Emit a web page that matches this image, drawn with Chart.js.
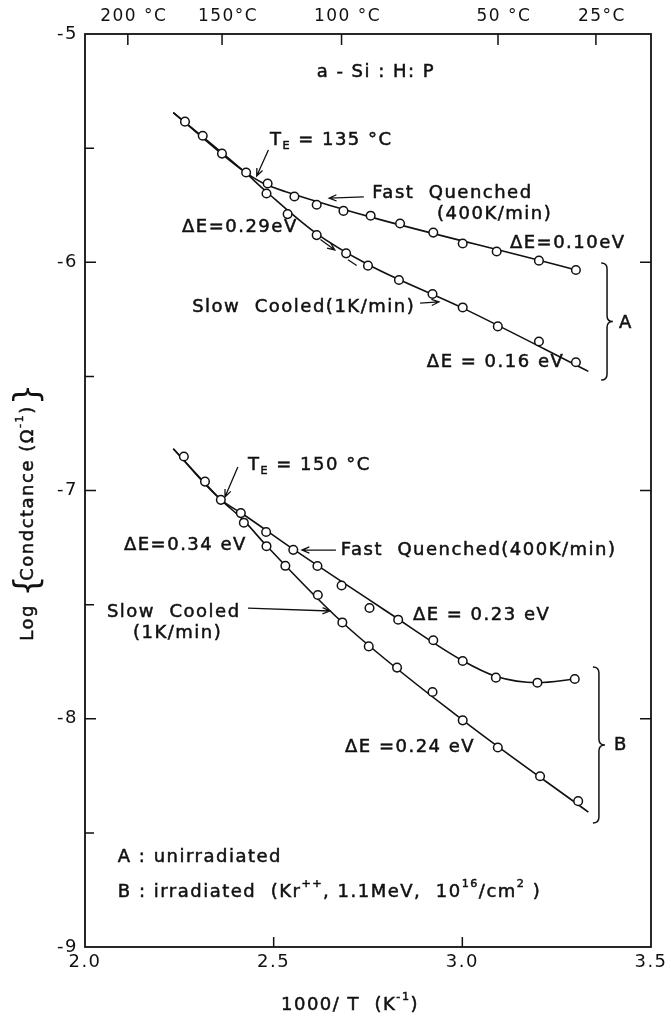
<!DOCTYPE html>
<html>
<head>
<meta charset="utf-8">
<script src="https://cdn.jsdelivr.net/npm/chart.js@4.4.1/dist/chart.umd.min.js"></script>
<style>
  html, body { margin: 0; padding: 0; background: #fff; }
  canvas { display: block; }
</style>
</head>
<body>
<canvas id="chart" width="671" height="1019"></canvas>
<script>
// values: x = 1000/T (1/K), y = log conductance

// A : unirradiated
const aCommonX = [2.265, 2.312, 2.363, 2.427];
const aCommonY = [-5.384, -5.446, -5.524, -5.607];
const aFastX = [2.484, 2.555, 2.614, 2.685, 2.757, 2.835, 2.923, 3.001, 3.091, 3.203, 3.301];
const aFastY = [-5.655, -5.712, -5.748, -5.775, -5.796, -5.830, -5.870, -5.918, -5.953, -5.993, -6.034];
const aSlowX = [2.481, 2.537, 2.614, 2.692, 2.750, 2.832, 2.921, 3.001, 3.094, 3.203, 3.301];
const aSlowY = [-5.699, -5.789, -5.881, -5.961, -6.015, -6.078, -6.139, -6.198, -6.281, -6.347, -6.438];

// B : irradiated
const bCommonX = [2.262, 2.318, 2.360];
const bCommonY = [-6.851, -6.961, -7.041];
const bFastX = [2.413, 2.480, 2.552, 2.616, 2.680, 2.754, 2.830, 2.923, 3.001, 3.089, 3.199, 3.298];
const bFastY = [-7.099, -7.182, -7.260, -7.331, -7.416, -7.515, -7.566, -7.656, -7.747, -7.820, -7.842, -7.826];
const bSlowX = [2.421, 2.481, 2.531, 2.617, 2.682, 2.752, 2.827, 2.921, 3.001, 3.094, 3.206, 3.307];
const bSlowY = [-7.141, -7.244, -7.330, -7.458, -7.578, -7.683, -7.776, -7.883, -8.007, -8.126, -8.252, -8.361];

// hand-drawn fit curves (knots)
const aFastFitX = [2.234, 2.42, 2.47, 2.53, 3.301];
const aFastFitY = [-5.344, -5.600, -5.652, -5.690, -6.034];
const aSlowFitX = [2.234, 2.42, 2.48, 2.61, 2.75, 3.00, 3.334];
const aSlowFitY = [-5.344, -5.600, -5.690, -5.870, -6.010, -6.200, -6.478];
const bFastFitX = [2.234, 2.36, 2.42, 2.55, 2.80, 3.00, 3.09, 3.20, 3.30];
const bFastFitY = [-6.817, -7.040, -7.105, -7.255, -7.530, -7.745, -7.815, -7.842, -7.826];
const bSlowFitX = [2.234, 2.36, 2.42, 2.48, 2.68, 3.00, 3.334];
const bSlowFitY = [-6.817, -7.040, -7.130, -7.240, -7.575, -8.005, -8.409];

// axes
const xTicks = [2.0, 2.5, 3.0, 3.5];
const xTickLabels = ['2.0', '2.5', '3.0', '3.5'];
const yTicks = [-9, -8, -7, -6, -5];
const yTickLabels = ['-9', '-8', '-7', '-6', '-5'];
const yMinorTicks = [-8.5, -7.5, -6.5, -5.5];
const tempC = [200, 150, 100, 50, 25];
const tempLabels = ['200 °C', '150°C', '100 °C', '50 °C', '25°C'];
const tempTicks = tempC.map(c => 1000 / (c + 273.15));

const FONT = '"DejaVu Sans", sans-serif';

const pts = (xs, ys) => xs.map((v, i) => ({x: v, y: ys[i]}));

function fitLine(xs, ys) {
  return {
    type: 'line', data: pts(xs, ys), showLine: true, pointRadius: 0,
    borderColor: '#111', borderWidth: 1.6, cubicInterpolationMode: 'monotone',
    fill: false, order: 2, clip: false
  };
}
function marks(xs, ys) {
  return {
    type: 'scatter', data: pts(xs, ys), showLine: false,
    pointRadius: 4.3, pointBorderWidth: 1.5, pointBackgroundColor: '#fff',
    pointBorderColor: '#111', order: 1, clip: false
  };
}

// text notes, placed in data units
const notes = [
  {x: 2.771, y: -5.166, align: 'center', parts: [{t: 'a - Si : H: P'}]},
  {x: 2.490, y: -5.464, parts: [{t: 'T'}, {t: 'E', sub: true}, {t: ' = 135 °C'}]},
  {x: 2.761, y: -5.697, parts: [{t: 'Fast  Quenched'}]},
  {x: 2.933, y: -5.789, parts: [{t: '(400K/min)'}]},
  {x: 2.257, y: -5.846, parts: [{t: 'ΔE=0.29eV'}]},
  {x: 3.126, y: -5.916, parts: [{t: 'ΔE=0.10eV'}]},
  {x: 2.284, y: -6.196, parts: [{t: 'Slow  Cooled(1K/min)'}]},
  {x: 2.906, y: -6.437, parts: [{t: 'ΔE = 0.16 eV'}]},
  {x: 3.415, y: -6.266, parts: [{t: 'A'}]},
  {x: 2.432, y: -6.888, parts: [{t: 'T'}, {t: 'E', sub: true}, {t: ' = 150 °C'}]},
  {x: 2.429, y: -7.239, align: 'right', parts: [{t: 'ΔE=0.34 eV'}]},
  {x: 2.678, y: -7.261, parts: [{t: 'Fast  Quenched(400K/min)'}]},
  {x: 2.058, y: -7.532, parts: [{t: 'Slow  Cooled'}]},
  {x: 2.127, y: -7.624, parts: [{t: '(1K/min)'}]},
  {x: 2.869, y: -7.545, parts: [{t: 'ΔE = 0.23 eV'}]},
  {x: 2.689, y: -8.124, parts: [{t: 'ΔE =0.24 eV'}]},
  {x: 3.402, y: -8.115, parts: [{t: 'B'}]},
  {x: 2.087, y: -8.606, parts: [{t: 'A : unirradiated'}]},
  {x: 2.087, y: -8.759, parts: [{t: 'B : irradiated  (Kr'}, {t: '++', sup: true}, {t: ', 1.1MeV,  10'},
    {t: '16', sup: true}, {t: '/cm'}, {t: '2', sup: true}, {t: ' )'}]}
];
const arrows = [
  [2.486, -5.508, 2.455, -5.622],
  [2.739, -5.714, 2.647, -5.719],
  [2.888, -6.179, 2.938, -6.174],
  [2.624, -5.900, 2.662, -5.946],
  [2.405, -6.897, 2.371, -7.028],
  [2.665, -7.261, 2.575, -7.261],
  [2.432, -7.515, 2.649, -7.528]
];
const dashes = [
  [2.697, -5.989, 2.720, -6.014]
];
const braces = [
  {x1: 3.368, x2: 3.399, y1: -6.003, y2: -6.516},
  {x1: 3.346, x2: 3.378, y1: -7.773, y2: -8.457}
];

function richWidth(ctx, parts, size) {
  let w = 0;
  parts.forEach(p => {
    ctx.font = `${(p.sup || p.sub) ? size * 0.62 : size}px ${FONT}`;
    w += ctx.measureText(p.t).width;
  });
  return w;
}
function rich(ctx, parts, x0, y0, size, align) {
  let cx = x0;
  const w = richWidth(ctx, parts, size);
  if (align === 'center') cx -= w / 2;
  if (align === 'right') cx -= w;
  ctx.textAlign = 'left';
  ctx.textBaseline = 'middle';
  ctx.lineWidth = 0.5;
  parts.forEach(p => {
    const s = (p.sup || p.sub) ? size * 0.62 : size;
    ctx.font = `${s}px ${FONT}`;
    const dy = p.sup ? -size * 0.42 : p.sub ? size * 0.32 : 0;
    ctx.fillText(p.t, cx, y0 + dy);
    ctx.strokeText(p.t, cx, y0 + dy);
    cx += ctx.measureText(p.t).width;
  });
}

const decor = {
  id: 'decor',
  beforeDraw(chart) {
    chart.ctx.letterSpacing = '1.5px';
  },
  afterDraw(chart) {
    const {ctx, chartArea: a, scales: {x, y}} = chart;
    const px = v => x.getPixelForValue(v);
    const py = v => y.getPixelForValue(v);
    ctx.save();
    ctx.strokeStyle = '#111';
    ctx.fillStyle = '#111';
    ctx.letterSpacing = '1.5px';

    // frame
    ctx.lineWidth = 1.8;
    ctx.strokeRect(a.left, a.top, a.right - a.left, a.bottom - a.top);

    // inward ticks
    ctx.lineWidth = 1.5;
    ctx.beginPath();
    xTicks.slice(1, -1).forEach(v => { ctx.moveTo(px(v), a.bottom); ctx.lineTo(px(v), a.bottom - 10); });
    tempTicks.forEach(v => { ctx.moveTo(px(v), a.top); ctx.lineTo(px(v), a.top + 11); });
    yTicks.slice(1, -1).forEach(v => {
      ctx.moveTo(a.left, py(v)); ctx.lineTo(a.left + 11, py(v));
      ctx.moveTo(a.right, py(v)); ctx.lineTo(a.right - 11, py(v));
    });
    yMinorTicks.forEach(v => { ctx.moveTo(a.left, py(v)); ctx.lineTo(a.left + 9, py(v)); });
    ctx.stroke();

    // notes
    notes.forEach(n => rich(ctx, n.parts, px(n.x), py(n.y), 18, n.align));

    // arrows
    ctx.lineWidth = 1.3;
    arrows.forEach(([x1, y1, x2, y2]) => {
      const X1 = px(x1), Y1 = py(y1), X2 = px(x2), Y2 = py(y2);
      const ang = Math.atan2(Y2 - Y1, X2 - X1), h = 8;
      ctx.beginPath();
      ctx.moveTo(X1, Y1); ctx.lineTo(X2, Y2);
      ctx.moveTo(X2 - h * Math.cos(ang - 0.4), Y2 - h * Math.sin(ang - 0.4));
      ctx.lineTo(X2, Y2);
      ctx.lineTo(X2 - h * Math.cos(ang + 0.4), Y2 - h * Math.sin(ang + 0.4));
      ctx.stroke();
    });
    ctx.beginPath();
    dashes.forEach(([x1, y1, x2, y2]) => { ctx.moveTo(px(x1), py(y1)); ctx.lineTo(px(x2), py(y2)); });
    ctx.stroke();

    // braces
    ctx.lineWidth = 1.5;
    braces.forEach(b => {
      const xl = px(b.x1), xr = px(b.x2), yt = py(b.y1), yb = py(b.y2);
      const ym = (yt + yb) / 2, r = (xr - xl) / 2;
      ctx.beginPath();
      ctx.moveTo(xl, yt);
      ctx.quadraticCurveTo(xl + r, yt, xl + r, yt + r);
      ctx.lineTo(xl + r, ym - r);
      ctx.quadraticCurveTo(xl + r, ym, xr, ym);
      ctx.quadraticCurveTo(xl + r, ym, xl + r, ym + r);
      ctx.lineTo(xl + r, yb - r);
      ctx.quadraticCurveTo(xl + r, yb, xl, yb);
      ctx.stroke();
    });

    // axis titles
    rich(ctx, [{t: '1000/ T  (K'}, {t: '-1', sup: true}, {t: ')'}], 350, 1005, 18, 'center');

    ctx.save();
    ctx.translate(28, 515);
    ctx.rotate(-Math.PI / 2);
    const yParts = [{t: 'Log '}, {t: 'Condctance (Ω'}, {t: '-1', sup: true}, {t: ')'}];
    const w = richWidth(ctx, yParts, 18) + 32;
    let cx = -w / 2;
    rich(ctx, yParts.slice(0, 1), cx, 0, 18);
    cx += richWidth(ctx, yParts.slice(0, 1), 18);
    ctx.font = `34px ${FONT}`;
    ctx.fillText('{', cx, 1);
    cx += 16;
    rich(ctx, yParts.slice(1), cx, 0, 18);
    cx += richWidth(ctx, yParts.slice(1), 18);
    ctx.font = `34px ${FONT}`;
    ctx.fillText('}', cx, 1);
    ctx.restore();

    ctx.restore();
  }
};

new Chart(document.getElementById('chart'), {
  type: 'scatter',
  data: {
    datasets: [
      fitLine(aFastFitX, aFastFitY),
      fitLine(aSlowFitX, aSlowFitY),
      fitLine(bFastFitX, bFastFitY),
      fitLine(bSlowFitX, bSlowFitY),
      marks(aCommonX, aCommonY),
      marks(aFastX, aFastY),
      marks(aSlowX, aSlowY),
      marks(bCommonX, bCommonY),
      marks(bFastX, bFastY),
      marks(bSlowX, bSlowY)
    ]
  },
  options: {
    responsive: false,
    animation: false,
    layout: {padding: {left: 0, right: 20, top: 0, bottom: 0}},
    plugins: {legend: {display: false}, tooltip: {enabled: false}},
    scales: {
      x: {
        type: 'linear', position: 'bottom', min: 2, max: 3.5,
        afterBuildTicks: s => { s.ticks = xTicks.map(v => ({value: v})); },
        afterFit: s => { s.height = 72; },
        grid: {display: false, drawTicks: false}, border: {display: false},
        ticks: {autoSkip: false, maxRotation: 0, padding: 5, color: '#111',
          font: {family: FONT, size: 18}, callback: (v, i) => xTickLabels[i]}
      },
      xTop: {
        type: 'linear', position: 'top', min: 2, max: 3.5, display: true,
        afterBuildTicks: s => { s.ticks = tempTicks.map(v => ({value: v})); },
        afterFit: s => { s.height = 34; },
        grid: {display: false, drawTicks: false}, border: {display: false},
        ticks: {autoSkip: false, maxRotation: 0, padding: 7, labelOffset: 6, color: '#111',
          font: {family: FONT, size: 17}, callback: (v, i) => tempLabels[i]}
      },
      y: {
        type: 'linear', min: -9, max: -5,
        afterBuildTicks: s => { s.ticks = yTicks.map(v => ({value: v})); },
        afterFit: s => { s.width = 85; },
        grid: {display: false, drawTicks: false}, border: {display: false},
        ticks: {autoSkip: false, padding: 7, color: '#111',
          font: {family: FONT, size: 18}, callback: (v, i) => yTickLabels[i]}
      }
    }
  },
  plugins: [decor]
});
</script>
</body>
</html>
